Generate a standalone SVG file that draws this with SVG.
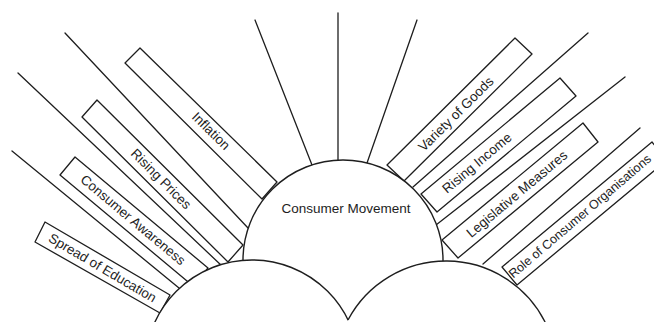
<svg xmlns="http://www.w3.org/2000/svg" width="654" height="322" viewBox="0 0 654 322">
<style>
.ln{stroke:#1e1e1e;stroke-width:1.3;fill:none;stroke-linecap:round}
.bx{stroke:#1e1e1e;stroke-width:1.3;fill:#fff;stroke-linejoin:round}
.cf{fill:#fff;stroke:none}
.cs{fill:none;stroke:#1e1e1e;stroke-width:1.4}
.lb{font-family:"Liberation Sans",Arial,sans-serif;font-size:13.5px;fill:#1e1e1e;text-anchor:middle;dominant-baseline:central}
.sm{font-size:12.6px}
</style>
<rect width="654" height="322" fill="#fff"/>
<g id="connectors">
<line class="ln" x1="255" y1="20" x2="312" y2="165"/>
<line class="ln" x1="338" y1="13" x2="338" y2="161"/>
<line class="ln" x1="417" y1="20" x2="367" y2="163"/>
<line class="ln" x1="65" y1="33" x2="248" y2="228"/>
<line class="ln" x1="18" y1="73" x2="222" y2="266"/>
<line class="ln" x1="12" y1="151" x2="179" y2="288"/>
<line class="ln" x1="588" y1="33" x2="413" y2="187"/>
<line class="ln" x1="625" y1="77" x2="436" y2="225"/>
<line class="ln" x1="640" y1="128" x2="483" y2="264"/>
</g>
<g id="inflation">
<polygon class="bx" points="125,63 140,48 277,182 262,199"/>
<text class="lb" x="211" y="131" transform="rotate(44.5 211 131)">Inflation</text>
</g>
<g id="rising-prices">
<polygon class="bx" points="82,117 97,100 243,245 228,262"/>
<text class="lb" x="161" y="179" transform="rotate(45 161 179)">Rising Prices</text>
</g>
<g id="consumer-awareness">
<polygon class="bx" points="60,175 75,157 208,268 193,286"/>
<text class="lb" x="133" y="220" transform="rotate(40 133 220)">Consumer Awareness</text>
</g>
<g id="spread-of-education">
<polygon class="bx" points="35,242 45,222 170,295 160,313"/>
<text class="lb" x="102.5" y="268" transform="rotate(30.5 102.5 268)">Spread of Education</text>
</g>
<g id="variety-of-goods">
<polygon class="bx" points="515,38 532,54 404,181 387,165"/>
<text class="lb" x="456" y="114" transform="rotate(-44.8 456 114)">Variety of Goods</text>
</g>
<g id="rising-income">
<polygon class="bx" points="560,78 576,96 437,212 421,194"/>
<text class="lb" x="477" y="163" transform="rotate(-40 477 163)">Rising Income</text>
</g>
<g id="legislative-measures">
<polygon class="bx" points="583,123 598,142 458,258 442,240"/>
<text class="lb" x="517" y="194" transform="rotate(-40 517 194)">Legislative Measures</text>
</g>
<g id="role-of-consumer-organisations">
<polygon class="bx" points="652,142 667,160 517,285 502,267"/>
<text class="lb sm" x="580" y="216.5" transform="rotate(-40.5 580 216.5)">Role of Consumer Organisations</text>
</g>
<g id="consumer-movement">
<path class="cf" d="M243,262 L243,260 A100,100 0 0 1 443,260 L443,262 Z"/>
<path class="cs" d="M243,262 L243,260 A100,100 0 0 1 443,260 L443,262"/>
<text class="lb" x="346" y="208.5">Consumer Movement</text>
</g>
<g id="left-circle">
<circle class="cf" cx="252" cy="367" r="107"/>
<circle class="cs" cx="252" cy="367" r="107"/>
</g>
<g id="right-circle">
<circle class="cf" cx="446" cy="372" r="111"/>
<path class="cs" d="M348,320 A111,111 0 0 1 545.1,322"/>
</g>
</svg>
